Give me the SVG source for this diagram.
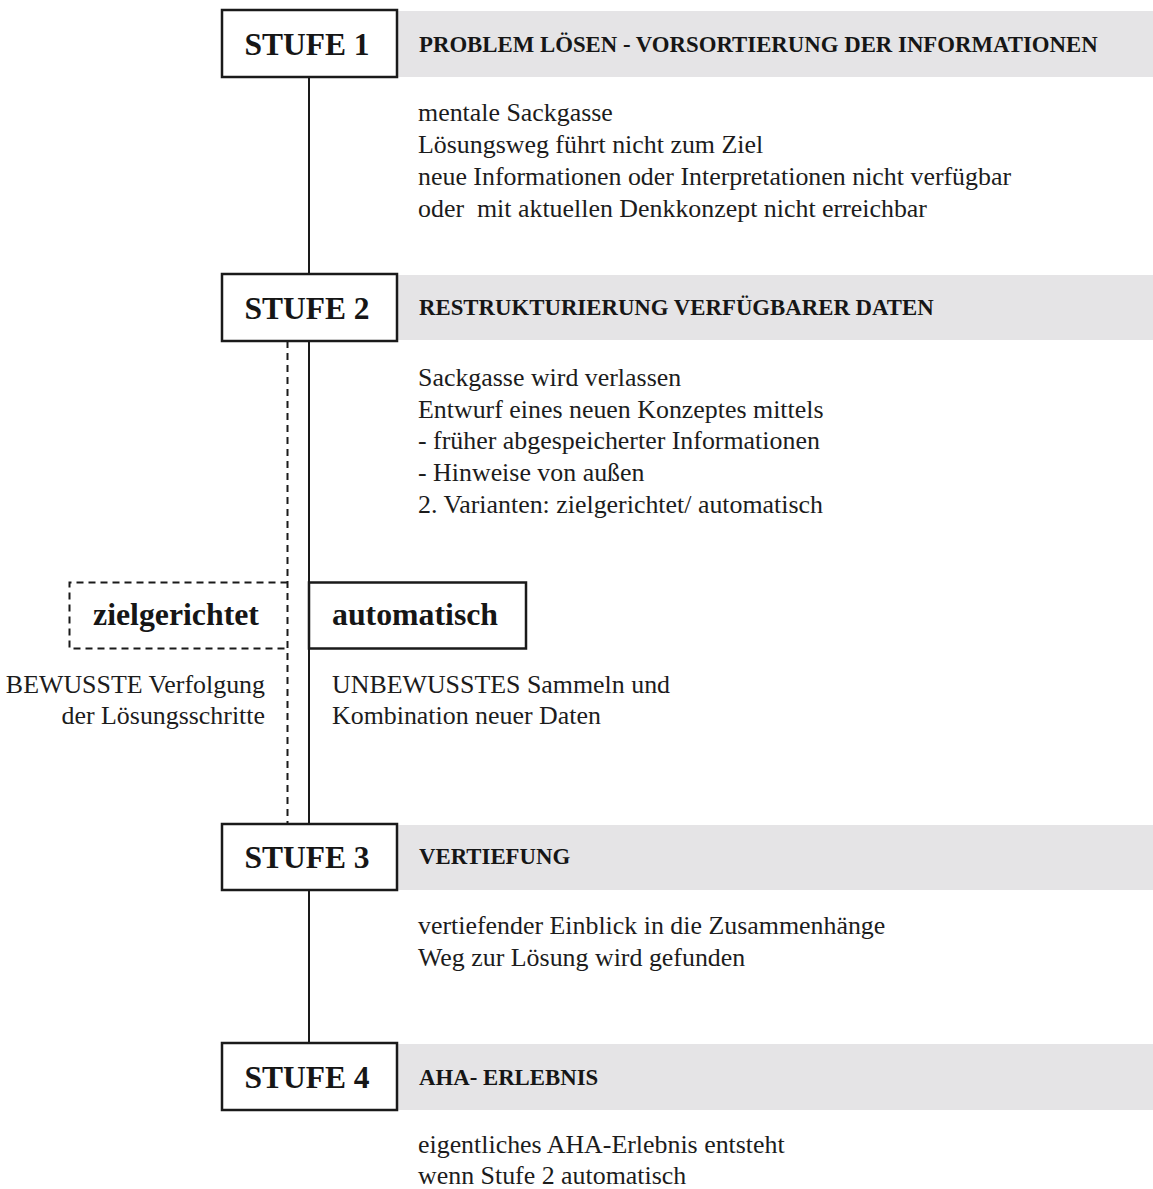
<svg xmlns="http://www.w3.org/2000/svg" width="1153" height="1189" viewBox="0 0 1153 1189">
  <style>
    .band { fill: #e5e4e6; }
    .box { fill: #ffffff; stroke: #1a1a1a; stroke-width: 2.5; }
    .dbox { fill: none; stroke: #1a1a1a; stroke-width: 2; stroke-dasharray: 7 5; }
    .line { stroke: #1a1a1a; stroke-width: 2; fill: none; }
    .dline { stroke: #1a1a1a; stroke-width: 2; fill: none; stroke-dasharray: 7 5; }
    .stufe { font-family: "Liberation Serif", "DejaVu Serif", serif; font-weight: bold; font-size: 31.5px; fill: #161616; text-anchor: middle; }
    .head { font-family: "Liberation Serif", "DejaVu Serif", serif; font-weight: bold; font-size: 22.8px; fill: #161616; }
    .branch { font-family: "Liberation Serif", "DejaVu Serif", serif; font-weight: bold; font-size: 31.8px; fill: #161616; }
    .body { font-family: "Liberation Serif", "DejaVu Serif", serif; font-size: 25.9px; fill: #1c1c1c; }
    .right { text-anchor: end; }
  </style>

  <!-- connectors: main timeline and the goal-directed branch -->
  <g id="connectors">
    <line class="line" x1="309" y1="77" x2="309" y2="274"/>
    <line class="line" x1="309" y1="341" x2="309" y2="824"/>
    <line class="line" x1="309" y1="890" x2="309" y2="1043"/>
    <line class="dline" x1="287.5" y1="341" x2="287.5" y2="824"/>
  </g>

  <!-- stage 1 -->
  <g id="stufe1">
    <rect class="band" x="397" y="11" width="756" height="66"/>
    <rect class="box" x="222" y="10" width="175" height="67"/>
    <text class="stufe" x="307" y="55">STUFE 1</text>
    <text class="head" x="419" y="52">PROBLEM LÖSEN - VORSORTIERUNG DER INFORMATIONEN</text>
    <text class="body" x="418" y="121">mentale Sackgasse</text>
    <text class="body" x="418" y="153">Lösungsweg führt nicht zum Ziel</text>
    <text class="body" x="418" y="185">neue Informationen oder Interpretationen nicht verfügbar</text>
    <text class="body" x="418" y="217" xml:space="preserve">oder  mit aktuellen Denkkonzept nicht erreichbar</text>
  </g>

  <!-- stage 2 -->
  <g id="stufe2">
    <rect class="band" x="397" y="275" width="756" height="65"/>
    <rect class="box" x="222" y="274" width="175" height="67"/>
    <text class="stufe" x="307" y="319">STUFE 2</text>
    <text class="head" x="419" y="315">RESTRUKTURIERUNG VERFÜGBARER DATEN</text>
    <text class="body" x="418" y="386">Sackgasse wird verlassen</text>
    <text class="body" x="418" y="418">Entwurf eines neuen Konzeptes mittels</text>
    <text class="body" x="418" y="449">- früher abgespeicherter Informationen</text>
    <text class="body" x="418" y="481">- Hinweise von außen</text>
    <text class="body" x="418" y="513">2. Varianten: zielgerichtet/ automatisch</text>
  </g>

  <!-- variant: goal-directed -->
  <g id="zielgerichtet">
    <path class="dbox" d="M287.5 582.5 H69.5 V648.5 H287.5"/>
    <text class="branch" x="176" y="625" text-anchor="middle">zielgerichtet</text>
    <text class="body right" x="265" y="693">BEWUSSTE Verfolgung</text>
    <text class="body right" x="265" y="724">der Lösungsschritte</text>
  </g>

  <!-- variant: automatic -->
  <g id="automatisch">
    <rect class="box" x="309" y="582.5" width="217" height="66"/>
    <text class="branch" x="332" y="625">automatisch</text>
    <text class="body" x="332" y="693">UNBEWUSSTES Sammeln und</text>
    <text class="body" x="332" y="724">Kombination neuer Daten</text>
  </g>

  <!-- stage 3 -->
  <g id="stufe3">
    <rect class="band" x="397" y="825" width="756" height="65"/>
    <rect class="box" x="222" y="824" width="175" height="66"/>
    <text class="stufe" x="307" y="868">STUFE 3</text>
    <text class="head" x="419" y="864">VERTIEFUNG</text>
    <text class="body" x="418" y="934">vertiefender Einblick in die Zusammenhänge</text>
    <text class="body" x="418" y="966">Weg zur Lösung wird gefunden</text>
  </g>

  <!-- stage 4 -->
  <g id="stufe4">
    <rect class="band" x="397" y="1044" width="756" height="66"/>
    <rect class="box" x="222" y="1043" width="175" height="67"/>
    <text class="stufe" x="307" y="1088">STUFE 4</text>
    <text class="head" x="419" y="1085">AHA- ERLEBNIS</text>
    <text class="body" x="418" y="1153">eigentliches AHA-Erlebnis entsteht</text>
    <text class="body" x="418" y="1184">wenn Stufe 2 automatisch</text>
  </g>
</svg>
